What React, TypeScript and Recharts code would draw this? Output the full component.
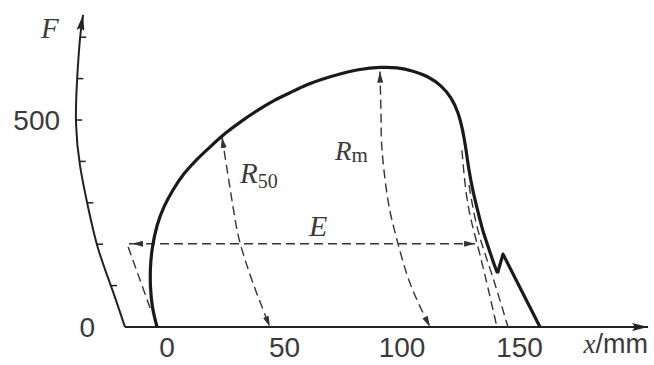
import React from 'react';
import { ComposedChart, Line, Scatter, XAxis, YAxis } from 'recharts';

// ---- data (x in mm, F in force units) ----
const curveX = [-4.26, -6.17, -7.02, -7.02, -6.17, -4.26, -1.28, 2.55, 7.23, 12.77, 18.72, 25.11, 31.91, 38.72, 45.53, 52.34, 59.57, 66.38, 73.62, 82.13, 90.64, 97.87, 104.68, 111.06, 116.6, 120.85, 123.83, 125.74, 127.23, 128.51, 130.21, 132.34, 134.47, 137.02, 139.15, 140.64];
const curveF = [0, 48, 97, 145, 193, 244, 290, 331, 370, 405, 437, 469, 498, 524, 547, 566, 585, 599, 611, 622, 627, 626, 618, 604, 582, 553, 517, 476, 428, 379, 329, 278, 232, 188, 152, 130];
const tailX = [140.64, 142.98, 158.72];
const tailF = [130, 176, 0];

const yAxisX = [-17.9, -23.4, -29.4, -33.6, -37.0, -38.7, -38.3, -37.0, -35.7];
const yAxisF = [0, 92, 191, 290, 389, 490, 592, 698, 754];
const baseX = [-17.9, 204.7];
const baseF = [0, 0];

const r50X = [23.4, 28.1, 31.1, 36.6, 43.8];
const r50F = [459, 290, 203, 106, 0];
const rmX = [90.6, 91.1, 91.5, 94.0, 97.9, 103.4, 111.9];
const rmF = [617, 500, 428, 307, 210, 106, 0];
const eX = [-14.9, 131.1];
const eF = [201, 201];
const leftX = [-7.2, -17.0, -14.9];
const leftF = [46, 201, 201];
const unloadAX = [125.5, 128.1, 133.2, 140.4];
const unloadAF = [427, 295, 174, 0];
const unloadBX = [128.5, 132.3, 138.3, 145.1];
const unloadBF = [343, 234, 126, 0];

const xTicks = [0, 50, 100, 150];
const yTickValues = [100, 200, 300, 400, 500, 600, 700];
const yTickLabels = ['0', '500'];
const yTickLabelValues = [0, 500];

// ---- layout constants ----
const W = 654;
const H = 365;
const X_MIN = -71.06;
const X_MAX = 207.23;
const Y_MIN = 0;
const Y_MAX = 789.9;
const SANS = '"Liberation Sans", Arial, sans-serif';
const SERIF = '"Liberation Serif", "Times New Roman", serif';
const INK = '#222';
const TXT = '#3a3a3a';

const zip = (xs: number[], fs: number[]) => xs.map((x, i) => ({ x, F: fs[i] }));

const interpAxisX = (F: number) => {
  for (let i = 0; i < yAxisF.length - 1; i++) {
    if (F >= yAxisF[i] && F <= yAxisF[i + 1]) {
      const t = (F - yAxisF[i]) / (yAxisF[i + 1] - yAxisF[i]);
      return yAxisX[i] + t * (yAxisX[i + 1] - yAxisX[i]);
    }
  }
  return yAxisX[yAxisX.length - 1];
};

// annotation placements (layout)
const yLabelPosX = [-30.6, -45.5];
const annotations = [
  { id: 'F', x: -49.8, F: 722 },
  { id: 'E', x: 64.3, F: 244 },
  { id: 'R50', x: 31.1, F: 348 },
  { id: 'Rm', x: 71.5, F: 403 },
  ...yTickLabels.map((label, i) => ({ id: 'y' + label, x: yLabelPosX[i], F: yTickLabelValues[i], label })),
];

const renderAnnot = (props: any) => {
  const { cx, cy, payload } = props;
  switch (payload.id) {
    case 'F':
      return (
        <text x={cx} y={cy} dy="0.35em" textAnchor="middle" fontFamily={SERIF} fontStyle="italic" fontSize={29} fill={TXT}>
          F
        </text>
      );
    case 'E':
      return (
        <text x={cx} y={cy} dy="0.35em" textAnchor="middle" fontFamily={SERIF} fontStyle="italic" fontSize={30} fill={TXT}>
          E
        </text>
      );
    case 'R50':
      return (
        <text x={cx} y={cy} fontFamily={SERIF} fontStyle="italic" fontSize={29} fill={TXT}>
          R
          <tspan fontStyle="normal" fontSize={20} dy={5}>
            50
          </tspan>
        </text>
      );
    case 'Rm':
      return (
        <text x={cx} y={cy} fontFamily={SERIF} fontStyle="italic" fontSize={27} fill={TXT}>
          R
          <tspan fontStyle="normal" fontSize={21} dy={2}>
            m
          </tspan>
        </text>
      );
    default:
      return (
        <text x={cx} y={cy} dy="0.35em" textAnchor="end" fontFamily={SANS} fontSize={28} fill={TXT}>
          {payload.label}
        </text>
      );
  }
};

const XUnitLabel = (props: any) => {
  const vb = props.viewBox || { x: 0, y: 0, width: W, height: 38 };
  return (
    <text x={vb.x + vb.width - 6} y={vb.y + 26} textAnchor="end" fontFamily={SANS} fontSize={27} fill={TXT}>
      <tspan fontFamily={SERIF} fontStyle="italic">x</tspan>/mm
    </text>
  );
};

export default function App() {
  const dashed = { stroke: '#333', strokeWidth: 1.4, strokeDasharray: '9 5', dot: false, activeDot: false, isAnimationActive: false } as const;
  return (
    <div style={{ position: 'absolute', left: 0, top: 0, width: W, height: H, background: '#fff' }}>
      <ComposedChart width={W} height={H} margin={{ top: 0, right: 0, bottom: 0, left: 0 }}>
        <defs>
          <marker id="axisArrow" viewBox="0 0 16 8" refX="16" refY="4" markerWidth="16" markerHeight="8" markerUnits="userSpaceOnUse" orient="auto">
            <path d="M0,0 L16,4 L0,8 L3,4 z" fill={INK} />
          </marker>
          <marker id="dashArrow" viewBox="0 0 11 6" refX="11" refY="3" markerWidth="11" markerHeight="6" markerUnits="userSpaceOnUse" orient="auto-start-reverse">
            <path d="M0,0 L11,3 L0,6 z" fill="#333" />
          </marker>
        </defs>
        <XAxis
          dataKey="x"
          type="number"
          domain={[X_MIN, X_MAX]}
          ticks={xTicks}
          interval={0}
          axisLine={false}
          tickLine={false}
          height={38}
          tickMargin={4}
          tick={{ fontSize: 28, fill: TXT, fontFamily: SANS }}
          label={{ content: XUnitLabel }}
        />
        <YAxis type="number" dataKey="F" domain={[Y_MIN, Y_MAX]} hide />

        {/* axes drawn as series */}
        <Line data={zip(yAxisX, yAxisF)} dataKey="F" type="natural" stroke={INK} strokeWidth={2} dot={false} activeDot={false} isAnimationActive={false} markerEnd="url(#axisArrow)" />
        <Line data={zip(baseX, baseF)} dataKey="F" type="linear" stroke={INK} strokeWidth={2} dot={false} activeDot={false} isAnimationActive={false} markerEnd="url(#axisArrow)" />
        {yTickValues.map((v) => {
          const ax = interpAxisX(v);
          return (
            <Line key={'t' + v} data={[{ x: ax, F: v }, { x: ax + 2.6, F: v }]} dataKey="F" type="linear" stroke={INK} strokeWidth={1.5} dot={false} activeDot={false} isAnimationActive={false} />
          );
        })}

        {/* dashed construction lines */}
        <Line data={zip(r50X, r50F)} dataKey="F" type="natural" {...dashed} markerStart="url(#dashArrow)" markerEnd="url(#dashArrow)" />
        <Line data={zip(rmX, rmF)} dataKey="F" type="natural" {...dashed} markerStart="url(#dashArrow)" markerEnd="url(#dashArrow)" />
        <Line data={zip(eX, eF)} dataKey="F" type="linear" {...dashed} markerStart="url(#dashArrow)" markerEnd="url(#dashArrow)" />
        <Line data={zip(leftX, leftF)} dataKey="F" type="linear" {...dashed} />
        <Line data={zip(unloadAX, unloadAF)} dataKey="F" type="natural" {...dashed} />
        <Line data={zip(unloadBX, unloadBF)} dataKey="F" type="natural" {...dashed} />

        {/* main force-extension curve */}
        <Line data={zip(curveX, curveF)} dataKey="F" type="natural" stroke="#1a1a1a" strokeWidth={3.2} dot={false} activeDot={false} isAnimationActive={false} />
        <Line data={zip(tailX, tailF)} dataKey="F" type="linear" stroke="#1a1a1a" strokeWidth={3.2} strokeLinejoin="round" dot={false} activeDot={false} isAnimationActive={false} />

        <Scatter data={annotations} dataKey="F" shape={renderAnnot} isAnimationActive={false} />
      </ComposedChart>
    </div>
  );
}
